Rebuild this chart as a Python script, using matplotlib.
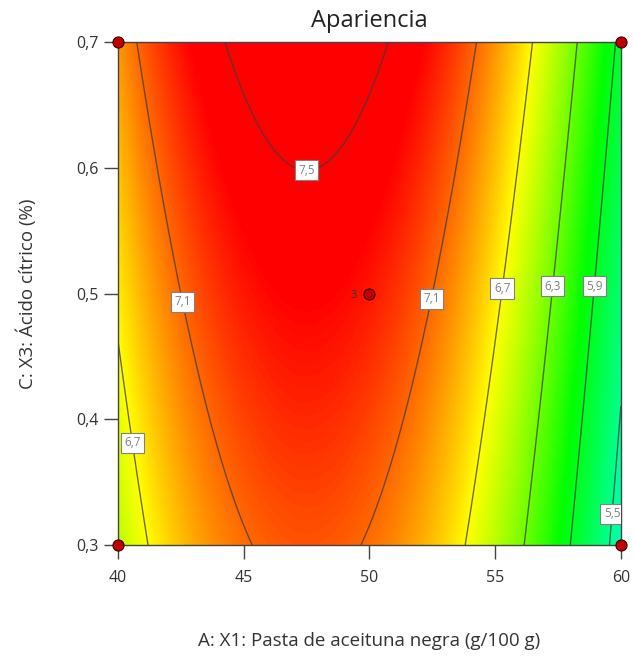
import numpy as np
import matplotlib
matplotlib.use("Agg")
import matplotlib.pyplot as plt
from matplotlib.colors import LinearSegmentedColormap, Normalize

plt.rcParams["font.family"] = ["Open Sans", "DejaVu Sans"]

# fitted quadratic model, coded units: A = (X1 - 50)/10, C = (X3 - 0.5)/0.2
coef_names = ["b0", "A", "C", "A2", "C2", "AC"]
coef_values = [7.314, -0.570, 0.2335, -1.140, 0.0015, 0.0]

x1_lim = [40, 60]
x3_lim = [0.3, 0.7]
contour_levels = [5.5, 5.9, 6.3, 6.7, 7.1, 7.5]

# where each contour label sits (X1, X3)
label_pos = [(47.5, 0.601), (42.47, 0.493), (52.45, 0.496), (55.26, 0.504),
             (57.26, 0.506), (58.89, 0.506), (40.48, 0.381), (59.5, 0.325)]

# design points
pts_x1 = [40, 40, 60, 60, 50]
pts_x3 = [0.3, 0.7, 0.3, 0.7, 0.5]
center_reps = "3"

x_ticks = [40, 45, 50, 55, 60]
y_ticks = [0.3, 0.4, 0.5, 0.6, 0.7]

# colour ramp: blue -> cyan -> green -> yellow -> red
ramp_values = [4.3, 5.1, 6.0, 6.7, 7.38]
ramp_colors = ["#0000ff", "#00ffff", "#00ff00", "#ffff00", "#ff0000"]


def predict(x1, x3):
    a = (x1 - 50) / 10
    c = (x3 - 0.5) / 0.2
    b = dict(zip(coef_names, coef_values))
    return (b["b0"] + b["A"] * a + b["C"] * c + b["A2"] * a ** 2
            + b["C2"] * c ** 2 + b["AC"] * a * c)


gx = np.linspace(x1_lim[0], x1_lim[1], 400)
gy = np.linspace(x3_lim[0], x3_lim[1], 400)
GX, GY = np.meshgrid(gx, gy)
Z = predict(GX, GY)

vmin, vmax = ramp_values[0], ramp_values[-1]
stops = [(v - vmin) / (vmax - vmin) for v in ramp_values]
cmap = LinearSegmentedColormap.from_list("de", list(zip(stops, ramp_colors)))

fig = plt.figure(figsize=(6.33, 6.58), dpi=100)
ax = fig.add_axes([0.1864, 0.1717, 0.7946, 0.7645])

ax.imshow(Z, origin="lower", extent=[*x1_lim, *x3_lim], aspect="auto",
          cmap=cmap, norm=Normalize(vmin, vmax), interpolation="bilinear")

cs = ax.contour(GX, GY, Z, levels=contour_levels, colors="#3c3c3c",
                linewidths=1.0, alpha=0.75)
labels = ax.clabel(cs, contour_levels, manual=label_pos, inline=False,
                   fmt=lambda v: f"{v:.1f}".replace(".", ","), fontsize=8.5,
                   colors="#555555")
for t in labels:
    t.set_rotation(0)
    t.set_bbox(dict(boxstyle="square,pad=0.3", facecolor="white",
                    edgecolor="#808080", linewidth=0.8))

ax.plot(pts_x1, pts_x3, "o", color="#c00000", markeredgecolor="#3a0000",
        markersize=8, markeredgewidth=0.8, clip_on=False, zorder=5)
ax.text(pts_x1[-1] - 0.5, pts_x3[-1], center_reps, fontsize=8,
        color="#333333", ha="right", va="center_baseline")

ax.set_xlim(x1_lim)
ax.set_ylim(x3_lim)
ax.set_xticks(x_ticks)
ax.set_xticklabels([str(v) for v in x_ticks])
ax.set_yticks(y_ticks)
ax.set_yticklabels([f"{v:.1f}".replace(".", ",") for v in y_ticks])
ax.tick_params(length=10, width=1, color="#444444", labelsize=11.5,
               labelcolor="#333333")
ax.tick_params(axis="y", pad=4)
ax.tick_params(axis="x", pad=8)
for s in ax.spines.values():
    s.set_color("#444444")
    s.set_linewidth(1)

ax.set_title("Apariencia", fontsize=17, color="#222222", pad=11)
ax.set_xlabel("A: X1: Pasta de aceituna negra (g/100 g)", fontsize=13.5,
              color="#333333", labelpad=33)
ax.set_ylabel("C: X3: Ácido cítrico (%)", fontsize=13.5, color="#333333",
              labelpad=28)

fig.savefig("out.png", dpi=100)
